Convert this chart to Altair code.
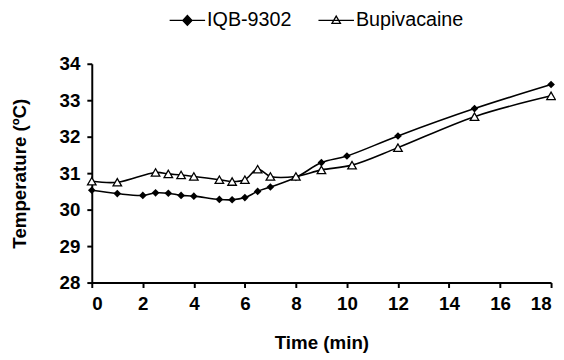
import altair as alt
import pandas as pd

# IQB-9302 series
iqb_time = [0, 1, 2, 2.5, 3, 3.5, 4, 5, 5.5, 6, 6.5, 7, 8, 9, 10, 12, 15, 18]
iqb_temp = [30.53, 30.44, 30.39, 30.46, 30.45, 30.39, 30.37, 30.28, 30.27, 30.33,
            30.50, 30.62, 30.88, 31.29, 31.47, 32.02, 32.77, 33.43]

# Bupivacaine series
bup_time = [0, 1, 2.5, 3, 3.5, 4, 5, 5.5, 6, 6.5, 7, 8, 9, 10.2, 12, 15, 18]
bup_temp = [30.78, 30.75, 31.02, 30.98, 30.95, 30.91, 30.82, 30.77, 30.82, 31.11,
            30.91, 30.91, 31.09, 31.22, 31.70, 32.55, 33.12]

series_names = ["IQB-9302", "Bupivacaine"]
x_ticks = [0, 2, 4, 6, 8, 10, 12, 14, 16, 18]
y_ticks = [28, 29, 30, 31, 32, 33, 34]

df = pd.concat([
    pd.DataFrame({"t": iqb_time, "T": iqb_temp, "series": series_names[0]}),
    pd.DataFrame({"t": bup_time, "T": bup_temp, "series": series_names[1]}),
], ignore_index=True)

FONT = "Liberation Sans"

x = alt.X("t:Q", scale=alt.Scale(domain=[0, 18], nice=False, zero=False),
          axis=alt.Axis(title="Time (min)", values=x_ticks, format="d"))
y = alt.Y("T:Q", scale=alt.Scale(domain=[28, 34], nice=False, zero=False),
          axis=alt.Axis(title="Temperature (ºC)", values=y_ticks, format="d"))

base = alt.Chart(df)

lines = base.mark_line(interpolate="catmull-rom", color="black", strokeWidth=1.6).encode(
    x=x, y=y, detail="series:N")

iqb_pts = base.transform_filter(alt.datum.series == series_names[0]).mark_point(
    shape="diamond", filled=True, color="black", size=60, opacity=1).encode(x=x, y=y)

bup_pts = base.transform_filter(alt.datum.series == series_names[1]).mark_point(
    shape="triangle-up", fill="white", stroke="black", strokeWidth=1.3, size=75,
    opacity=1).encode(x=x, y=y)

diamond_path = "M-1,0H1M0,-0.28L0.26,0L0,0.28L-0.26,0Z"
triangle_path = "M-1,0H1M0,-0.24L0.24,0.17H-0.24Z"

leg = dict(orient="none", legendX=78, legendY=-63, direction="horizontal", title=None,
           labelFont=FONT, labelFontSize=20, labelColor="black", symbolSize=1296,
           symbolStrokeWidth=1.3, labelOffset=1, columnPadding=24, padding=0)

legend_layer = base.transform_filter("false").mark_point(
    strokeWidth=1.3, opacity=1).encode(
    x=x, y=y,
    shape=alt.Shape("series:N", scale=alt.Scale(domain=series_names,
                                                 range=[diamond_path, triangle_path]),
                    legend=alt.Legend(**leg)),
    fill=alt.Fill("series:N", scale=alt.Scale(domain=series_names, range=["black", "white"]),
                  legend=alt.Legend(**leg)),
    stroke=alt.Stroke("series:N", scale=alt.Scale(domain=series_names, range=["black", "black"]),
                      legend=alt.Legend(**leg)),
)

chart = alt.layer(lines, iqb_pts, bup_pts, legend_layer).properties(
    width=466, height=222,
    autosize=alt.AutoSizeParams(type="none"),
    padding={"left": 85, "top": 54, "right": 5, "bottom": 76},
).configure_view(stroke=None).configure_axis(
    grid=False, domainColor="black", domainWidth=2, tickColor="black", tickWidth=2,
    tickSize=5, labelFont=FONT, labelFontSize=19, labelFontWeight="bold",
    labelColor="black", titleFont=FONT, titleFontSize=19, titleFontWeight="bold",
    titleColor="black",
).configure_axisX(labelPadding=7, titlePadding=21).configure_axisY(
    labelPadding=7, titlePadding=30)

chart.save("out.html", embed_options={"renderer": "svg", "actions": False})
